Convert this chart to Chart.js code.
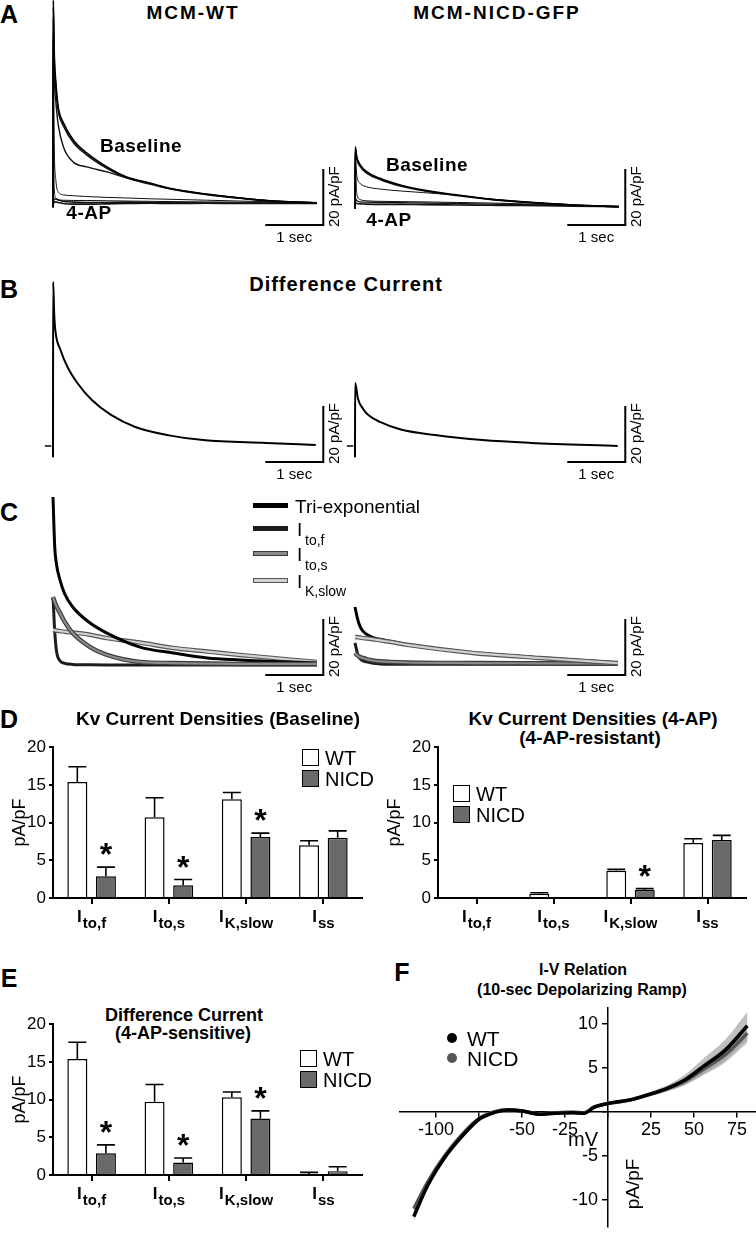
<!DOCTYPE html>
<html>
<head>
<meta charset="utf-8">
<title>Kv currents: MCM-WT vs MCM-NICD-GFP</title>
<script src="https://cdn.jsdelivr.net/npm/chart.js@4.4.1/dist/chart.umd.min.js"></script>
<style>
  html, body { margin: 0; padding: 0; background: #fff; }
  #fig { position: relative; width: 756px; height: 1240px; overflow: hidden;
         font-family: "Liberation Sans", Arial, sans-serif; color: #000; }
  #fig canvas { position: absolute; }
  .t { position: absolute; white-space: nowrap; line-height: 1; }
  .sq { position: absolute; width: 15px; height: 15px; border: 1.5px solid #000; }
  .ln { position: absolute; width: 35px; height: 5px; box-sizing: border-box; }
  .dot { position: absolute; width: 10px; height: 10px; border-radius: 50%; }
</style>
</head>
<body>
<div id="fig"></div>
<script>
// ---------- A: raw currents (time in sec, current in pA/pF) ----------
const aWtTime  = [0, 0.005, 0.02, 0.05, 0.09, 0.18, 0.35, 0.58, 0.93, 1.27, 1.67, 2.07, 2.65, 3.22, 3.8, 4.55];
const aWtBase1 = [-1.5, 72.5, 54.6, 42.9, 34.3, 28.6, 22.5, 17.9, 12.9, 9.3, 7.1, 5.0, 3.2, 1.8, 0.7, 0];
const aWtBase2 = [-1.5, 70.0, 52.0, 41.0, 33.0, 27.5, 21.6, 17.2, 12.4, 9.0, 6.8, 4.8, 3.0, 1.7, 0.6, 0.1];
const aWtBase3 = [-1.5, 66.0, 46.0, 36.0, 28.0, 20.0, 14.6, 12.9, 11.1, 9.0, 7.0, 5.0, 3.1, 1.8, 0.7, 0.1];
const aWtBase4 = [-1.5, 60.0, 22.0, 8.0, 4.0, 2.9, 2.6, 2.3, 2.0, 1.8, 1.5, 1.3, 1.0, 0.7, 0.4, 0.1];
const aWtBase5 = [-1.5, 50.0, 6.0, 1.5, 1.0, 1.0, 0.9, 0.9, 0.8, 0.7, 0.6, 0.5, 0.4, 0.3, 0.2, 0.1];
const aWt4ap1  = [-1.5, 0.5, 1.2, 1.5, 1.2, 0.6, 0.3, 0.2, 0.2, 0.3, 0.2, 0.1, 0.0, 0.0, -0.1, -0.1];
const aWt4ap2  = [-1.5, -0.5, 0.2, 0.4, 0.2, -0.2, -0.4, -0.4, -0.3, -0.2, -0.1, -0.2, -0.1, -0.2, -0.2, -0.2];

const aNiTime  = [0, 0.005, 0.03, 0.09, 0.2, 0.43, 0.78, 1.18, 1.75, 2.33, 2.9, 3.76, 4.55];
const aNiBase1 = [-2, 20.1, 16.5, 13.6, 11.2, 8.8, 6.4, 4.6, 2.9, 1.4, 0.4, -0.7, -1.3];
const aNiBase2 = [-2, 19.5, 15.8, 13.0, 10.7, 8.4, 6.1, 4.4, 2.7, 1.3, 0.3, -0.7, -1.3];
const aNiBase3 = [-2, 18.0, 10.0, 7.0, 5.8, 5.0, 4.3, 3.7, 2.8, 1.4, 0.4, -0.7, -1.3];
const aNiBase4 = [-2, 14.0, 3.4, 1.2, 0.8, 0.6, 0.5, 0.4, 0.2, 0.0, -0.3, -0.8, -1.3];
const aNi4ap1  = [-2, 1.5, 0.8, 0.4, 0.3, 0.2, 0.1, 0.0, -0.2, -0.4, -0.6, -1.0, -1.3];
const aNi4ap2  = [-2, 0.2, -0.2, -0.3, -0.4, -0.5, -0.5, -0.6, -0.7, -0.8, -0.9, -1.1, -1.3];

// ---------- B: difference current ----------
const bWtTime = [0, 0.003, 0.02, 0.04, 0.13, 0.25, 0.42, 0.67, 1.0, 1.42, 2.0, 2.59, 3.67, 4.53];
const bWtDiff = [-4, 58.6, 47.5, 41.4, 34.3, 28.2, 22.5, 16.4, 11.1, 6.8, 3.8, 2.1, 1.1, 0.4];
const bNiTime = [0, 0.003, 0.05, 0.14, 0.21, 0.43, 0.79, 1.38, 2.2, 3.03, 4.53];
const bNiDiff = [-4, 22.5, 17.0, 13.2, 11.4, 8.6, 5.9, 3.9, 2.1, 1.1, 0];

// ---------- C: tri-exponential fit and components ----------
const cWtTime  = [0, 0.03, 0.06, 0.12, 0.2, 0.34, 0.64, 0.93, 1.5, 2.07, 2.66, 3.22, 4.55];
const cWtTri   = [60, 42.1, 36, 30.4, 25.5, 20.7, 15.0, 11.4, 6.4, 4.3, 2.5, 1.8, 0.7];
const cWtItof  = [24.3, 12, 5, 1.5, 0.6, 0.2, 0.05, 0, 0, 0, 0, 0, 0];
const cWtItos  = [24.3, 22.5, 21, 18.6, 15.5, 11.4, 6.4, 3.6, 1.1, 0.7, 0.5, 0.4, 0.4];
const cWtIks   = [12.5, 12.4, 12.3, 12.1, 11.9, 11.6, 10.8, 9.6, 8.0, 6.1, 4.8, 3.6, 1.1];

const cNiTime  = [0, 0.05, 0.09, 0.14, 0.2, 0.31, 0.43, 0.6, 0.9, 2.03, 3.19, 4.53];
const cNiTri   = [20.7, 16, 13.6, 12.0, 11.0, 9.8, 9.2, 8.5, 7.3, 4.4, 2.6, 0.8];
const cNiItof  = [7.9, 3.6, 2.2, 1.5, 1.1, 0.6, 0.4, 0.3, 0.3, 0.3, 0.3, 0.3];
const cNiItos  = [4.3, 3.3, 2.8, 2.5, 2.1, 1.6, 1.3, 1.1, 0.9, 0.7, 0.6, 0.5];
const cNiIks   = [10, 9.9, 9.8, 9.6, 9.5, 9.2, 8.8, 8.3, 7.2, 4.3, 2.5, 0.7];

// ---------- D / E: current densities (pA/pF, mean and SEM) ----------
const currents   = ['Ito,f', 'Ito,s', 'IK,slow', 'Iss'];
const currentSub = ['to,f', 'to,s', 'K,slow', 'ss'];

const wtBase      = [15.4, 10.7, 13.1, 7.0];
const wtBaseErr   = [2.0, 2.6, 0.9, 0.6];
const nicdBase    = [2.9, 1.7, 8.1, 8.0];
const nicdBaseErr = [1.2, 0.75, 0.5, 0.9];
const sigBase     = [true, true, true, false];

const wt4ap       = [null, 0.55, 3.6, 7.3];
const wt4apErr    = [0, 0.15, 0.2, 0.55];
const nicd4ap     = [null, null, 1.05, 7.7];
const nicd4apErr  = [0, 0, 0.2, 0.6];
const sig4ap      = [false, false, true, false];

const wtDiff      = [15.4, 9.7, 10.3, 0.1];
const wtDiffErr   = [2.2, 2.3, 0.7, 0.25];
const nicdDiff    = [2.9, 1.65, 7.5, 0.5];
const nicdDiffErr = [1.1, 0.6, 1.0, 0.6];
const sigDiff     = [true, true, true, false];

// ---------- F: I-V relation from the depolarizing ramp ----------
const ivVolt    = [-113, -105, -95, -85, -75, -66, -58, -50, -40, -31, -21, -14, -8, 0, 12, 23, 35, 45, 56, 68, 81];
const ivWT      = [-11.9, -8.4, -5.2, -2.8, -0.85, -0.07, 0.2, 0.1, -0.28, -0.17, -0.1, -0.17, 0.52, 0.94, 1.32, 1.92, 2.72, 3.66, 5.23, 6.97, 9.76];
const ivWTsem   = [0.5, 0.4, 0.35, 0.3, 0.2, 0.15, 0.15, 0.15, 0.15, 0.2, 0.25, 0.2, 0.2, 0.2, 0.2, 0.25, 0.35, 0.6, 0.9, 1.2, 1.6];
const ivNICD    = [-11.0, -8.0, -5.0, -2.6, -0.75, 0.0, 0.22, 0.1, -0.25, -0.1, -0.05, -0.12, 0.55, 0.95, 1.3, 1.9, 2.65, 3.5, 4.9, 6.45, 8.9];
const ivNICDsem = [0.4, 0.35, 0.3, 0.25, 0.2, 0.15, 0.15, 0.15, 0.15, 0.15, 0.2, 0.2, 0.2, 0.2, 0.2, 0.2, 0.3, 0.45, 0.7, 0.9, 1.1];

// ---------------------------------------------------------------
const FONT = '"Liberation Sans", Arial, Helvetica, sans-serif';
Chart.defaults.font.family = FONT;
Chart.defaults.color = '#000';

const fig = document.getElementById('fig');
const PX_PER_SEC = 58;   // trace time scale
const PX_PER_UNIT = 2.8; // trace current scale
const BAR_T = 4.66;      // where the scale bars sit (sec)

function addCanvas(left, top, w, h) {
  const c = document.createElement('canvas');
  c.width = w; c.height = h;
  c.style.left = left + 'px'; c.style.top = top + 'px';
  fig.appendChild(c);
  return c;
}

function text(str, x, y, size, o = {}) {
  const d = document.createElement('div');
  d.className = 't';
  d.textContent = str;
  Object.assign(d.style, {
    left: x + 'px', top: y + 'px', fontSize: size + 'px',
    fontWeight: o.bold ? 'bold' : 'normal',
    letterSpacing: (o.ls || 0) + 'px',
    transform: (o.left ? 'translate(0,-50%)' : 'translate(-50%,-50%)') + (o.rot ? ' rotate(-90deg)' : '')
  });
  fig.appendChild(d);
  return d;
}

function box(cls, x, y, style) {
  const d = document.createElement('div');
  d.className = cls;
  Object.assign(d.style, { left: x + 'px', top: y + 'px' }, style);
  fig.appendChild(d);
}

// scale bars (1 sec / 20 pA/pF) drawn in data units
const scaleBarPlugin = {
  id: 'scaleBar',
  afterDatasetsDraw(chart, args, opts) {
    const { ctx, scales: { x, y } } = chart;
    const x0 = x.getPixelForValue(BAR_T - 1), x1 = x.getPixelForValue(BAR_T);
    const y0 = y.getPixelForValue(opts.low), y1 = y.getPixelForValue(opts.low + 20);
    ctx.save();
    ctx.strokeStyle = '#000';
    ctx.lineWidth = 2;
    ctx.beginPath();
    ctx.moveTo(x0, y0); ctx.lineTo(x1, y0); ctx.lineTo(x1, y1);
    ctx.stroke();
    if (opts.zeroTick) {
      ctx.lineWidth = 1.5;
      ctx.beginPath();
      ctx.moveTo(x.getPixelForValue(-0.14), y.getPixelForValue(0));
      ctx.lineTo(x.getPixelForValue(-0.03), y.getPixelForValue(0));
      ctx.stroke();
    }
    ctx.fillStyle = '#000';
    ctx.font = '15px ' + FONT;
    ctx.textAlign = 'center';
    ctx.textBaseline = 'top';
    ctx.fillText('1 sec', (x0 + x1) / 2, y0 + 5);
    ctx.translate(x1 + 12, y0 + 2);
    ctx.rotate(-Math.PI / 2);
    ctx.textAlign = 'left';
    ctx.textBaseline = 'middle';
    ctx.fillText('20 pA/pF', 0, 0);
    ctx.restore();
  }
};

function tr(time, vals, color, width) {
  return { time, vals, color, width };
}

// traces are listed in drawing order (Chart.js paints the last dataset first)
function traceChart(left, top, height, zeroY, traces, barLow, zeroTick) {
  const width = 305;
  const c = addCanvas(left, top, width, height);
  new Chart(c, {
    type: 'line',
    data: {
      datasets: traces.slice().reverse().map(s => ({
        data: s.time.map((t, i) => ({ x: t, y: s.vals[i] })),
        borderColor: s.color,
        borderWidth: s.width,
        pointRadius: 0,
        fill: false,
        cubicInterpolationMode: 'monotone'
      }))
    },
    options: {
      responsive: false, animation: false, events: [], devicePixelRatio: 1,
      layout: { padding: 0 },
      plugins: {
        legend: { display: false }, tooltip: { enabled: false },
        scaleBar: { low: barLow, zeroTick: zeroTick }
      },
      scales: {
        x: { type: 'linear', display: false, min: -10 / PX_PER_SEC, max: (width - 10) / PX_PER_SEC },
        y: { display: false, min: -(height - (zeroY - top)) / PX_PER_UNIT, max: (zeroY - top) / PX_PER_UNIT }
      }
    },
    plugins: [scaleBarPlugin]
  });
}

// error bars, significance stars and subscripted category labels
const barExtras = {
  id: 'barExtras',
  afterDatasetsDraw(chart, args, opts) {
    const { ctx, scales: { x, y } } = chart;
    ctx.save();
    ctx.strokeStyle = '#000';
    ctx.lineWidth = 1.6;
    chart.data.datasets.forEach((ds, di) => {
      chart.getDatasetMeta(di).data.forEach((bar, i) => {
        const v = ds.data[i], e = ds.errors[i];
        if (v == null || !e) return;
        const yTop = y.getPixelForValue(v + e);
        const half = bar.width * 0.45;
        ctx.beginPath();
        ctx.moveTo(bar.x, bar.y); ctx.lineTo(bar.x, yTop);
        ctx.moveTo(bar.x - half, yTop); ctx.lineTo(bar.x + half, yTop);
        ctx.stroke();
      });
    });

    const nicd = chart.data.datasets[1];
    const nicdMeta = chart.getDatasetMeta(1);
    ctx.fillStyle = '#000';
    ctx.font = 'bold 32px ' + FONT;
    ctx.textAlign = 'center';
    ctx.textBaseline = 'alphabetic';
    opts.sig.forEach((s, i) => {
      if (!s) return;
      const cy = y.getPixelForValue(nicd.data[i] + nicd.errors[i]) - 20;
      ctx.fillText('*', nicdMeta.data[i].x, cy + 18);
    });

    const base = x.top + 24;
    x.ticks.forEach((t, i) => {
      const cx = x.getPixelForTick(i);
      ctx.font = 'bold 17px ' + FONT;
      const wMain = ctx.measureText('I').width;
      ctx.font = 'bold 15px ' + FONT;
      const wSub = ctx.measureText(currentSub[i]).width;
      const l = cx - (wMain + 1 + wSub) / 2;
      ctx.textAlign = 'left';
      ctx.font = 'bold 17px ' + FONT;
      ctx.fillText('I', l, base);
      ctx.font = 'bold 15px ' + FONT;
      ctx.fillText(currentSub[i], l + wMain + 1, base + 6);
    });
    ctx.restore();
  }
};

function barChart(left, top, width, yAxisW, titlePad, wt, wtErr, nicd, nicdErr, sig) {
  const height = 12 + 152 + 40;
  const c = addCanvas(left, top, width, height);
  new Chart(c, {
    type: 'bar',
    data: {
      labels: currents,
      datasets: [
        { label: 'WT', data: wt, errors: wtErr, backgroundColor: '#fff', borderColor: '#000',
          borderWidth: 1.5, barPercentage: 0.7, categoryPercentage: 0.74 },
        { label: 'NICD', data: nicd, errors: nicdErr, backgroundColor: '#6a6a6a', borderColor: '#000',
          borderWidth: 1.5, barPercentage: 0.7, categoryPercentage: 0.74 }
      ]
    },
    options: {
      responsive: false, animation: false, events: [], devicePixelRatio: 1,
      layout: { padding: { top: 12, right: 4, bottom: 0, left: 0 } },
      plugins: { legend: { display: false }, tooltip: { enabled: false }, barExtras: { sig } },
      scales: {
        x: {
          afterFit: s => { s.height = 40; },
          ticks: { display: false },
          grid: { offset: false, drawOnChartArea: false, drawTicks: true, tickLength: 6, color: '#000', lineWidth: 2 },
          border: { display: true, color: '#000', width: 2 }
        },
        y: {
          min: 0, max: 20,
          afterFit: s => { s.width = yAxisW; },
          ticks: { stepSize: 5, font: { size: 17 }, color: '#000', padding: 3 },
          grid: { drawOnChartArea: false, drawTicks: true, tickLength: 4, color: '#000', lineWidth: 2 },
          border: { display: true, color: '#000', width: 2 },
          title: { display: true, text: 'pA/pF', font: { size: 18 }, color: '#000', padding: { top: titlePad, bottom: 0 } }
        }
      }
    },
    plugins: [barExtras]
  });
}

function barLegend(x, y) {
  box('sq', x, y, { background: '#fff' });
  box('sq', x, y + 21, { background: '#6a6a6a' });
  text('WT', x + 23, y + 9, 20, { left: true });
  text('NICD', x + 23, y + 30, 20, { left: true });
}

// ---------------- panel A ----------------
text('A', 9, 14, 25, { bold: true });
text('MCM-WT', 193, 12, 19, { bold: true, ls: 2 });
text('MCM-NICD-GFP', 497, 12, 19, { bold: true, ls: 2 });
traceChart(43, 0, 245, 203, [
  tr(aWtTime, aWt4ap2, '#111', 1.6),
  tr(aWtTime, aWt4ap1, '#111', 1.6),
  tr(aWtTime, aWtBase5, '#111', 1.0),
  tr(aWtTime, aWtBase4, '#111', 1.0),
  tr(aWtTime, aWtBase3, '#111', 1.4),
  tr(aWtTime, aWtBase2, '#111', 1.6),
  tr(aWtTime, aWtBase1, '#000', 1.6)
], -7.9, false);
traceChart(345, 0, 245, 203, [
  tr(aNiTime, aNi4ap2, '#111', 1.6),
  tr(aNiTime, aNi4ap1, '#111', 1.4),
  tr(aNiTime, aNiBase4, '#111', 1.0),
  tr(aNiTime, aNiBase3, '#111', 1.0),
  tr(aNiTime, aNiBase2, '#111', 1.6),
  tr(aNiTime, aNiBase1, '#000', 1.6)
], -7.9, false);
text('Baseline', 141, 145, 19, { bold: true, ls: 0.5 });
text('4-AP', 89, 212, 19, { bold: true, ls: 0.5 });
text('Baseline', 427, 164, 19, { bold: true, ls: 0.5 });
text('4-AP', 389, 219, 19, { bold: true, ls: 0.5 });

// ---------------- panel B ----------------
text('B', 9, 289, 25, { bold: true });
text('Difference Current', 346, 284, 20, { bold: true, ls: 1 });
traceChart(43, 270, 215, 446, [tr(bWtTime, bWtDiff, '#000', 2)], -5.7, true);
traceChart(345, 270, 215, 446, [tr(bNiTime, bNiDiff, '#000', 2)], -5.7, true);

// ---------------- panel C ----------------
text('C', 9, 512, 25, { bold: true });
traceChart(43, 480, 215, 665, [
  tr(cWtTime, cWtItof, '#1c1c1c', 3),
  tr(cWtTime, cWtIks, '#555', 4.5),
  tr(cWtTime, cWtIks, '#d0d0d0', 2.2),
  tr(cWtTime, cWtTri, '#000', 3),
  tr(cWtTime, cWtItos, '#3a3a3a', 4.5),
  tr(cWtTime, cWtItos, '#8a8a8a', 2.2)
], -3.6, false);
traceChart(345, 480, 215, 665, [
  tr(cNiTime, cNiItof, '#1c1c1c', 3),
  tr(cNiTime, cNiItos, '#3a3a3a', 4.5),
  tr(cNiTime, cNiItos, '#8a8a8a', 2.2),
  tr(cNiTime, cNiTri, '#000', 3),
  tr(cNiTime, cNiIks, '#555', 4.5),
  tr(cNiTime, cNiIks, '#d0d0d0', 2.2)
], -3.6, false);
// legend of panel C
box('ln', 253, 503, { background: '#000' });
box('ln', 253, 526, { background: '#1c1c1c' });
box('ln', 253, 551, { background: '#8a8a8a', border: '1px solid #3a3a3a' });
box('ln', 253, 578, { background: '#d0d0d0', border: '1px solid #555' });
text('Tri-exponential', 295, 506, 19, { left: true });
text('I', 297, 529, 19, { left: true });
text('to,f', 305, 540, 14, { left: true });
text('I', 297, 554, 19, { left: true });
text('to,s', 305, 565, 14, { left: true });
text('I', 297, 581, 19, { left: true });
text('K,slow', 305, 591, 14, { left: true });

// ---------------- panel D ----------------
text('D', 9, 719, 25, { bold: true });
text('Kv Current Densities (Baseline)', 218, 718, 19, { bold: true });
barChart(0, 734, 366, 53, 9, wtBase, wtBaseErr, nicdBase, nicdBaseErr, sigBase);
barLegend(302, 749);

text('Kv Current Densities (4-AP)', 593, 718, 19, { bold: true });
text('(4-AP-resistant)', 590, 737, 19, { bold: true });
barChart(380, 734, 370, 58, 4, wt4ap, wt4apErr, nicd4ap, nicd4apErr, sig4ap);
barLegend(453, 785);

// ---------------- panel E ----------------
text('E', 9, 978, 25, { bold: true });
text('Difference Current', 184, 1015, 18, { bold: true });
text('(4-AP-sensitive)', 183, 1033, 18, { bold: true });
barChart(0, 1011, 366, 53, 9, wtDiff, wtDiffErr, nicdDiff, nicdDiffErr, sigDiff);
barLegend(300, 1050);

// ---------------- panel F ----------------
text('F', 402, 972, 25, { bold: true });
text('I-V Relation', 583, 970, 16, { bold: true });
text('(10-sec Depolarizing Ramp)', 582, 990, 16, { bold: true });

const ivPts = ys => ivVolt.map((v, i) => ({ x: v, y: ys[i] }));
const ivBand = { borderWidth: 0, pointRadius: 0, cubicInterpolationMode: 'monotone' };
const ivLine = { borderWidth: 3.5, pointRadius: 0, fill: false, cubicInterpolationMode: 'monotone' };
const ivCanvas = addCanvas(395, 995, 361, 245);
new Chart(ivCanvas, {
  type: 'line',
  data: {
    // index 0 is painted last, so the WT line sits on top of everything
    datasets: [
      Object.assign({ label: 'WT', data: ivPts(ivWT), borderColor: '#000' }, ivLine),
      Object.assign({ label: 'NICD', data: ivPts(ivNICD), borderColor: '#555' }, ivLine),
      Object.assign({ data: ivPts(ivWT.map((v, i) => v + ivWTsem[i])), fill: '+1', backgroundColor: 'rgba(150,150,150,0.6)' }, ivBand),
      Object.assign({ data: ivPts(ivWT.map((v, i) => v - ivWTsem[i])), fill: false }, ivBand),
      Object.assign({ data: ivPts(ivNICD.map((v, i) => v + ivNICDsem[i])), fill: '+1', backgroundColor: 'rgba(170,170,170,0.6)' }, ivBand),
      Object.assign({ data: ivPts(ivNICD.map((v, i) => v - ivNICDsem[i])), fill: false }, ivBand)
    ]
  },
  options: {
    responsive: false, animation: false, events: [], devicePixelRatio: 1,
    layout: { padding: { left: 5, top: 7, right: 0, bottom: 0 } },
    plugins: { legend: { display: false }, tooltip: { enabled: false } },
    scales: {
      x: {
        type: 'linear', min: -121, max: 86, position: { y: 0 },
        ticks: { stepSize: 25, includeBounds: false, autoSkip: false, maxRotation: 0, font: { size: 18 }, color: '#000', padding: 2,
                 callback: v => (v === 0 || v === -75) ? '' : v },
        grid: { drawOnChartArea: false, drawTicks: true, tickLength: 5, color: '#000', lineWidth: 1.5 },
        border: { display: true, color: '#000', width: 1.5 }
      },
      y: {
        min: -13.1, max: 11.8, position: { x: 0 },
        ticks: { stepSize: 5, includeBounds: false, autoSkip: false, font: { size: 18 }, color: '#000', padding: 2,
                 callback: v => v === 0 ? '' : v + '  ' },
        grid: { drawOnChartArea: false, drawTicks: true, tickLength: 5, color: '#000', lineWidth: 1.5 },
        border: { display: true, color: '#000', width: 1.5 }
      }
    }
  }
});
text('mV', 583, 1139, 20);
text('pA/pF', 632, 1184, 19, { rot: true });
box('dot', 447, 1033, { background: '#000' });
box('dot', 447, 1053, { background: '#555' });
text('WT', 467, 1038, 21, { left: true });
text('NICD', 467, 1058, 21, { left: true });
</script>
</body>
</html>
